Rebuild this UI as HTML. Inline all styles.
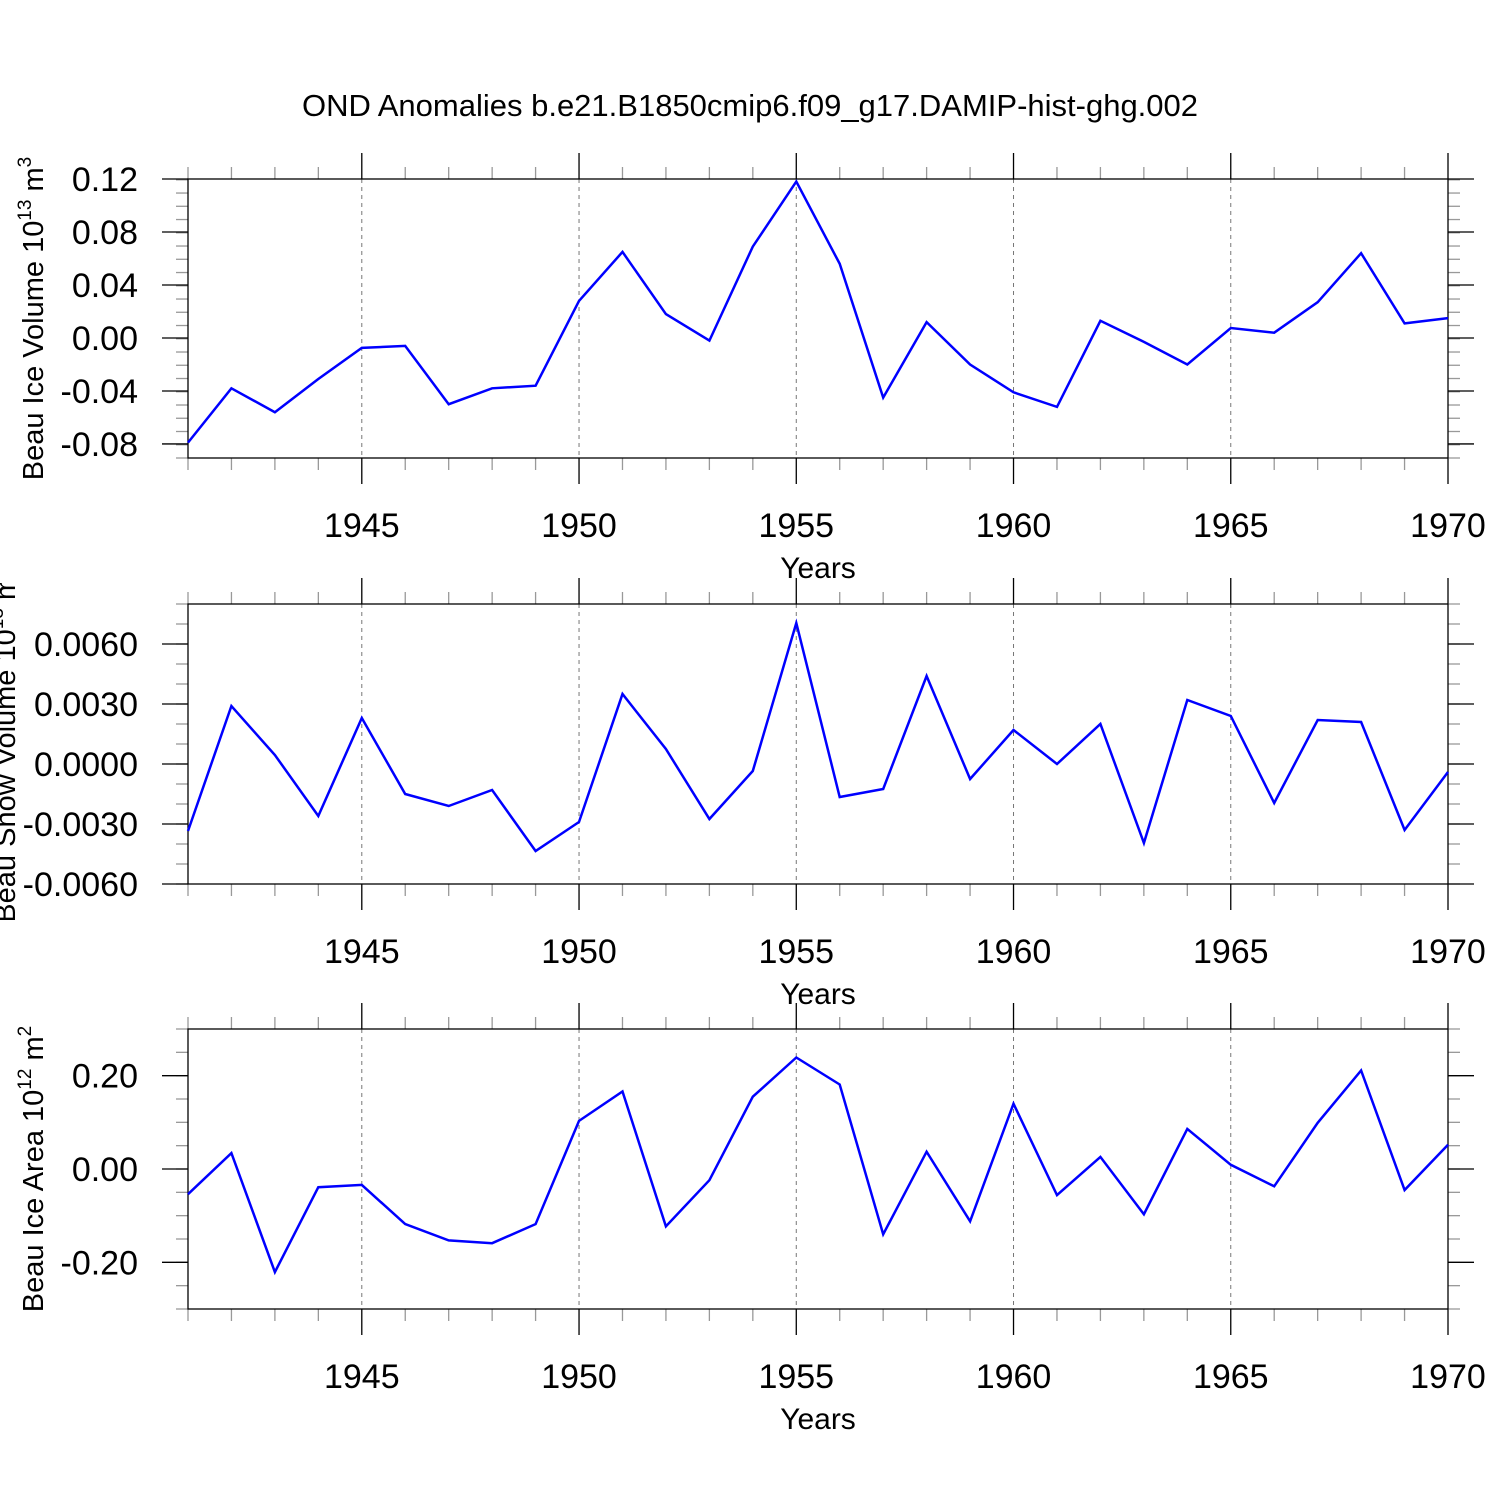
<!DOCTYPE html>
<html><head><meta charset="utf-8"><style>
body{margin:0;background:#fff}
svg text{font-family:"Liberation Sans",Arial,sans-serif}
</style></head><body>
<svg id="c" width="1500" height="1500" xmlns="http://www.w3.org/2000/svg">
<defs><clipPath id="snowclip"><rect x="0" y="583" width="60" height="337"/></clipPath></defs>
<text x="750" y="116" font-size="31" text-anchor="middle">OND Anomalies b.e21.B1850cmip6.f09_g17.DAMIP-hist-ghg.002</text>
</svg>
<script>
const years = [1941,1942,1943,1944,1945,1946,1947,1948,1949,1950,1951,1952,1953,1954,1955,1956,1957,1958,1959,1960,1961,1962,1963,1964,1965,1966,1967,1968,1969,1970];
const iceVolume = [-0.079,-0.038,-0.056,-0.031,-0.0075,-0.006,-0.050,-0.038,-0.036,0.028,0.065,0.018,-0.002,0.069,0.118,0.056,-0.045,0.012,-0.020,-0.041,-0.052,0.013,-0.003,-0.020,0.0075,0.004,0.027,0.064,0.011,0.015];
const snowVolume = [-0.00335,0.0029,0.00045,-0.0026,0.0023,-0.0015,-0.0021,-0.0013,-0.00435,-0.0029,0.0035,0.00075,-0.00275,-0.00035,0.00705,-0.00165,-0.00125,0.0044,-0.00075,0.0017,0,0.002,-0.00395,0.0032,0.0024,-0.00195,0.0022,0.0021,-0.0033,-0.0004];
const iceArea = [-0.054,0.034,-0.221,-0.039,-0.034,-0.118,-0.153,-0.159,-0.118,0.103,0.166,-0.123,-0.024,0.155,0.239,0.181,-0.140,0.037,-0.112,0.140,-0.056,0.026,-0.097,0.086,0.009,-0.037,0.099,0.211,-0.045,0.052];
const xTicks = [1945,1950,1955,1960,1965,1970];
const iceVolTicks = [-0.08,-0.04,0.00,0.04,0.08,0.12];
const snowTicks = [-0.006,-0.003,0,0.003,0.006];
const areaTicks = [-0.2,0,0.2];

const svg=document.getElementById('c');
const NS='http://www.w3.org/2000/svg';
function mk(tag,attrs,parent){const e=document.createElementNS(NS,tag);for(const k in attrs)e.setAttribute(k,attrs[k]);(parent||svg).appendChild(e);return e;}
const X0=188,X1=1448,xmin=1941,xmax=1970;
const xs=v=>X0+(v-xmin)/(xmax-xmin)*(X1-X0);

function panel(cfg){
  const g=mk('g',{});
  
  
  const ys=v=>cfg.top+(cfg.ymax-v)/(cfg.ymax-cfg.ymin)*(cfg.bot-cfg.top);
  xTicks.forEach(t=>{ if(t<xmax){const l=mk('line',{x1:xs(t),x2:xs(t),y1:cfg.top,y2:cfg.bot,stroke:'#777','stroke-width':1,'stroke-dasharray':'4,4'},g);
    }});
  for(let y=xmin;y<=xmax;y++){
    const maj=xTicks.includes(y); const len=maj?26:12;
    mk('line',{x1:xs(y),x2:xs(y),y1:cfg.top-len,y2:cfg.top,stroke:maj?'#000':'#999','stroke-width':1.3},g);
    mk('line',{x1:xs(y),x2:xs(y),y1:cfg.bot,y2:cfg.bot+len,stroke:maj?'#000':'#999','stroke-width':1.3},g);
  }
  const n=Math.round((cfg.ymax-cfg.ymin)/cfg.minor);
  for(let i=0;i<=n;i++){const v=cfg.ymin+i*cfg.minor;const y=ys(v);
    mk('line',{x1:X0-12,x2:X0,y1:y,y2:y,stroke:'#999','stroke-width':1.3},g);
    mk('line',{x1:X1,x2:X1+12,y1:y,y2:y,stroke:'#999','stroke-width':1.3},g);}
  cfg.ticks.forEach((v,i)=>{const y=ys(v);
    mk('line',{x1:X0-26,x2:X0,y1:y,y2:y,stroke:'#000','stroke-width':1.3},g);
    mk('line',{x1:X1,x2:X1+26,y1:y,y2:y,stroke:'#000','stroke-width':1.3},g);
    const t=mk('text',{x:138,y:y+12,'font-size':34,'text-anchor':'end'},g);t.textContent=cfg.labels[i];
    });
  xTicks.forEach(v=>{const t=mk('text',{x:xs(v),y:cfg.bot+79,'font-size':34,'text-anchor':'middle'},g);t.textContent=v;
    });
  const xt=mk('text',{x:818,y:cfg.bot+120,'font-size':30,'text-anchor':'middle'},g);xt.textContent='Years';
  
  const fr=mk('rect',{x:X0,y:cfg.top,width:X1-X0,height:cfg.bot-cfg.top,fill:'none',stroke:'#000','stroke-width':1.3},g);
  
  const pts=years.map((yr,i)=>xs(yr).toFixed(1)+','+ys(cfg.data[i]).toFixed(1)).join(' ');
  const pl=mk('polyline',{points:pts,fill:'none',stroke:'#0000ff','stroke-width':2.5,'stroke-linejoin':'miter'},g);
  
  const cy=(cfg.top+cfg.bot)/2;
  const tg=mk('g',cfg.clip?{'clip-path':'url(#snowclip)'}:{},g);
  const tx=cfg.clip?15:43;
  const yt=mk('text',{x:0,y:0,'font-size':29,'text-anchor':'middle',transform:`translate(${tx},${cy}) rotate(-90)`},tg);
  
  yt.appendChild(document.createTextNode(cfg.title+' 10'));
  const s1=mk('tspan',{dy:-12,'font-size':19},yt);s1.textContent=cfg.exp;
  const s2=mk('tspan',{dy:12},yt);s2.textContent=' m';
  const s3=mk('tspan',{dy:-12,'font-size':19},yt);s3.textContent=cfg.unitExp;
}
panel({name:'ice-volume-panel',top:179,bot:458,ymin:-0.0906,ymax:0.12,minor:0.01,ticks:iceVolTicks,labels:['-0.08','-0.04','0.00','0.04','0.08','0.12'],data:iceVolume,title:'Beau Ice Volume',exp:'13',unitExp:'3'});
panel({name:'snow-volume-panel',top:604,bot:884,ymin:-0.006,ymax:0.008,minor:0.001,ticks:snowTicks,labels:['-0.0060','-0.0030','0.0000','0.0030','0.0060'],data:snowVolume,title:'Beau Snow Volume',exp:'13',unitExp:'3',clip:true});
panel({name:'ice-area-panel',top:1029,bot:1309,ymin:-0.3,ymax:0.3,minor:0.05,ticks:areaTicks,labels:['-0.20','0.00','0.20'],data:iceArea,title:'Beau Ice Area',exp:'12',unitExp:'2'});
</script>
</body></html>
